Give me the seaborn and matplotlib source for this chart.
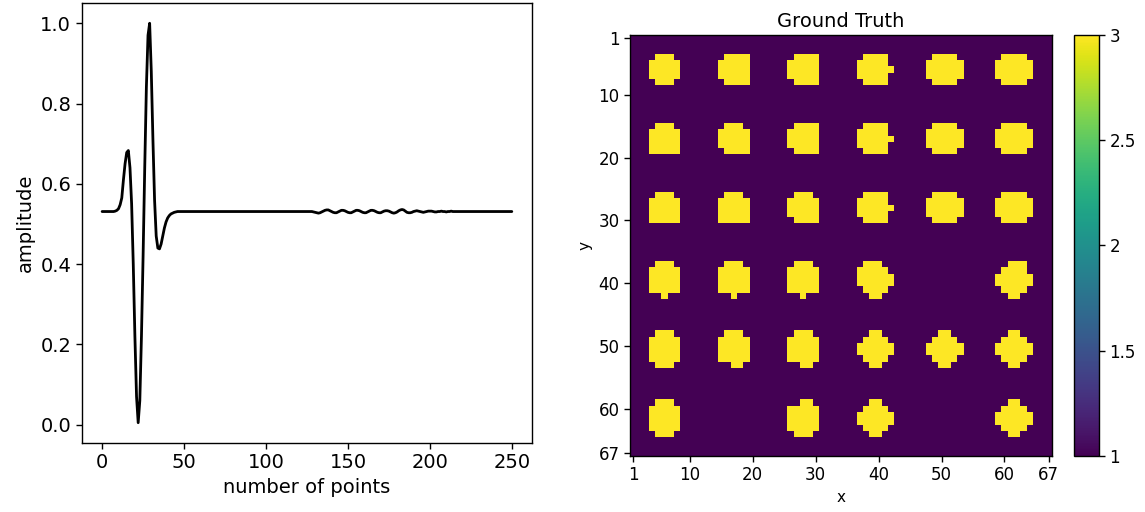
import numpy as np
import pandas as pd
import matplotlib
matplotlib.use("Agg")
import matplotlib.pyplot as plt
import seaborn as sns

# ---------------- data: left panel (waveform, 251 samples) ----------------
baseline_start = [0.531] * 8
wavelet = [
    0.532, 0.534, 0.538, 0.548, 0.565, 0.610, 0.650, 0.678, 0.683, 0.640,
    0.550, 0.400, 0.220, 0.070, 0.005, 0.060, 0.220, 0.420, 0.640, 0.840,
    0.970, 1.000, 0.880, 0.710, 0.560, 0.470, 0.440, 0.438, 0.450, 0.470,
    0.490, 0.505, 0.515, 0.521, 0.525, 0.527, 0.529, 0.530, 0.531,
]
baseline_mid = [0.531] * 81
ripple = [
    0.531, 0.530, 0.529, 0.528, 0.527, 0.528, 0.530, 0.532, 0.534, 0.535,
    0.535, 0.533, 0.531, 0.529, 0.528, 0.528, 0.530, 0.532, 0.534, 0.534,
    0.533, 0.531, 0.529, 0.528, 0.528, 0.530, 0.532, 0.534, 0.534, 0.533,
    0.531, 0.529, 0.528, 0.528, 0.530, 0.532, 0.534, 0.534, 0.533, 0.531,
    0.529, 0.528, 0.528, 0.530, 0.532, 0.533, 0.533, 0.532, 0.530, 0.528,
    0.527, 0.528, 0.530, 0.533, 0.535, 0.536, 0.535, 0.532, 0.529, 0.528,
    0.528, 0.529, 0.531, 0.532, 0.533, 0.532, 0.531, 0.530, 0.529, 0.530,
    0.531, 0.532, 0.532, 0.532, 0.531, 0.530, 0.530, 0.531, 0.531, 0.532,
    0.531, 0.531, 0.530, 0.531, 0.531, 0.532, 0.531, 0.531, 0.531, 0.531,
    0.531, 0.531,
]
baseline_end = [0.531] * 31
amplitude = baseline_start + wavelet + baseline_mid + ripple + baseline_end
points = list(range(len(amplitude)))

# ---------------- data: right panel (ground truth model, 67 x 67) ----------------
grid_size = 67
background_value = 1
anomaly_value = 3
templates = {
    "round5":    [".###.", "#####", "#####", "#####", ".###."],
    "cutleft":   [".####", "#####", "#####", "#####", ".####"],
    "flatbot":   [".###.", "#####", "#####", "#####", "#####"],
    "cutbl":     [".###.", "#####", "#####", "#####", ".####"],
    "nub":       [".####.", "#####.", "######", "#####.", ".####."],
    "wide":      [".####.", "######", "######", "######", ".####."],
    "stem":      [".###.", "#####", "#####", "#####", "#####", "..#.."],
    "tall":      [".###.", "#####", "#####", "#####", "#####", ".###."],
    "tallcut":   [".###.", "#####", "#####", "#####", "#####", "..##."],
    "tallcut2":  ["..##.", "#####", "#####", "#####", "#####", ".###."],
    "blobL":     [".###..", "#####.", "######", "######", ".####.", "..##.."],
    "blobR":     ["..###.", ".####.", "######", "######", ".####.", "..##.."],
    "diamond":   ["..##..", ".####.", "######", "######", ".####.", "..##.."],
}
blob_rows = [3, 3, 3, 3, 3, 3,
             14, 14, 14, 14, 14, 14,
             25, 25, 25, 25, 25, 25,
             36, 36, 36, 36, 36,
             47, 47, 47, 47, 47, 47,
             58, 58, 58, 58]
blob_cols = [3, 14, 25, 36, 47, 58,
             3, 14, 25, 36, 47, 58,
             3, 14, 25, 36, 47, 58,
             3, 14, 25, 36, 58,
             3, 14, 25, 36, 47, 58,
             3, 25, 36, 58]
blob_shapes = ["round5", "cutleft", "cutleft", "nub", "wide", "wide",
               "flatbot", "cutbl", "cutleft", "nub", "wide", "wide",
               "flatbot", "flatbot", "cutbl", "nub", "wide", "wide",
               "stem", "stem", "stem", "blobL", "blobR",
               "tall", "tallcut", "tallcut", "diamond", "diamond", "diamond",
               "tall", "tallcut2", "diamond", "diamond"]
axis_tick_labels = [1, 10, 20, 30, 40, 50, 60, 67]
cbar_ticks = [1, 1.5, 2, 2.5, 3]
cbar_tick_labels = ["1", "1.5", "2", "2.5", "3"]

grid = np.full((grid_size, grid_size), background_value, dtype=float)
for r0, c0, name in zip(blob_rows, blob_cols, blob_shapes):
    for dr, line in enumerate(templates[name]):
        for dc, ch in enumerate(line):
            if ch == "#":
                grid[r0 + dr, c0 + dc] = anomaly_value
model = pd.DataFrame(grid, index=range(1, grid_size + 1), columns=range(1, grid_size + 1))

# ---------------- style ----------------
sns.set_style("ticks")
plt.rcParams.update({
    "font.family": ["DejaVu Sans"],
    "text.color": "black",
    "axes.labelcolor": "black",
    "axes.edgecolor": "black",
    "xtick.color": "black",
    "ytick.color": "black",
    "axes.linewidth": 1.0,
})

fig = plt.figure(figsize=(11.45, 5.12), dpi=100)
ax1 = fig.add_axes([0.0713, 0.1354, 0.3936, 0.8582])
ax2 = fig.add_axes([0.5502, 0.1094, 0.3683, 0.8223])
cax = fig.add_axes([0.9380, 0.1094, 0.0218, 0.8223])

# left: waveform
wave = pd.DataFrame({"number of points": points, "amplitude": amplitude})
sns.lineplot(data=wave, x="number of points", y="amplitude", ax=ax1,
             color="black", linewidth=2.0)
ax1.set_xticks([0, 50, 100, 150, 200, 250])
ax1.set_yticks([0.0, 0.2, 0.4, 0.6, 0.8, 1.0])
ax1.tick_params(labelsize=14, length=4, width=1)
ax1.set_xlabel("number of points", fontsize=14)
ax1.set_ylabel("amplitude", fontsize=14)
for sp in ax1.spines.values():
    sp.set_visible(True)

# right: ground truth heatmap
sns.heatmap(model, ax=ax2, cmap="viridis", vmin=1, vmax=3, cbar_ax=cax,
            xticklabels=False, yticklabels=False)
pos = [v - 1 + 0.5 for v in axis_tick_labels]
ax2.set_xticks(pos)
ax2.set_xticklabels([str(v) for v in axis_tick_labels], rotation=0)
ax2.set_yticks(pos)
ax2.set_yticklabels([str(v) for v in axis_tick_labels], rotation=0)
ax2.tick_params(labelsize=12, length=4, width=1)
ax2.set_xlabel("x", fontsize=11)
ax2.set_ylabel("y", fontsize=11)
ax2.set_title("Ground Truth", fontsize=14)
for sp in ax2.spines.values():
    sp.set_visible(True)
    sp.set_color("black")
    sp.set_linewidth(1.0)

cbar = ax2.collections[0].colorbar
cbar.set_ticks(cbar_ticks)
cbar.set_ticklabels(cbar_tick_labels)
cbar.ax.tick_params(labelsize=12, length=4, width=1)
cbar.outline.set_visible(True)
cbar.outline.set_edgecolor("black")
cbar.outline.set_linewidth(1.0)

fig.savefig("out.png", dpi=100)
